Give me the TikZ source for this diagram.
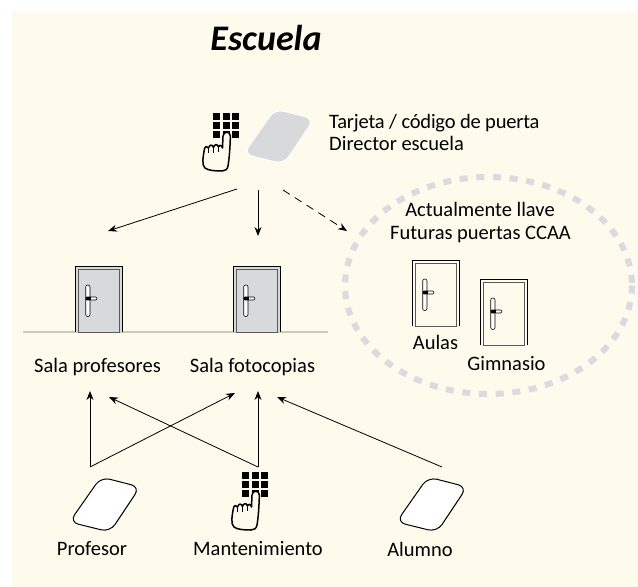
\documentclass[tikz,border=0pt]{standalone}
\usepackage{fontspec}
\setmainfont{Carlito}
\usetikzlibrary{arrows.meta,calc}
\definecolor{bgc}{HTML}{FEFAEC}
\definecolor{doorgray}{HTML}{D8D9DB}
\definecolor{ringgray}{HTML}{D9DBE0}
\definecolor{floorc}{HTML}{CBCBBD}
\tikzset{
  lbl/.style={font=\fontsize{20.5}{23}\selectfont,inner sep=0pt,text=black},
  conn/.style={-{Stealth[length=9pt,width=7pt]},line width=0.8pt,black},
  pics/door/.style={code={
    \fill[#1] (0,0) rectangle (47,66);
    \draw[line width=.9pt] (0,66) -- (0,0) -- (47,0) -- (47,66);
    \draw[line width=.9pt,draw=black!65,fill=#1] (3,66) -- (3,3) -- (44,3) -- (44,66) -- cycle;
    \draw[line width=.6pt,fill=white,rounded corners=2pt] (10.7,19) rectangle (15,50.5);
    \draw[line width=.6pt,fill=white,rounded corners=1pt] (10.7,31) rectangle (21.7,34);
    \fill (10.7,31) rectangle (16,34);
  }},
  pics/card/.style={code={
    \draw[line width=1pt,fill=white,rounded corners=9pt,#1] (-3.5,42) -- (28,-3) -- (67,7) -- (37,52) -- cycle;
  }},
  pics/keyhand/.style={code={
    \foreach \i in {0,1,2} \foreach \j in {0,1,2}
      \fill (\i*9.7,\j*9.2) rectangle ++(6.8,6.6);
    \draw[line width=1.5pt,line join=round,fill=bgc]
      (10,23) .. controls (10.5,18) and (17.3,18) .. (17.4,23)
      .. controls (17,34) and (16.5,44) .. (15,53)
      .. controls (14.5,56.5) and (12,58) .. (9,58)
      .. controls (2,58) and (-5,57.5) .. (-8,55)
      .. controls (-11.5,52) and (-10,44) .. (-8.5,36)
      .. controls (-8,33) and (-5.5,33) .. (-4.5,35)
      .. controls (-3.5,31.5) and (-0.5,31) .. (0.5,34.5)
      .. controls (1.5,31) and (4.5,30.5) .. (5.5,34)
      .. controls (6.5,31.5) and (8.5,32) .. (9.5,35)
      -- cycle;
    \draw[line width=1.3pt] (-4.5,35) -- (-4.5,40) (0.5,34.5) -- (0.5,39.5) (5.5,34) -- (5.5,39);
  }}
}
\begin{document}
\begin{tikzpicture}[x=1pt,y=-1pt]
\useasboundingbox (0,0) rectangle (638,587);
\fill[white] (0,0) rectangle (638,587);
\fill[bgc] (12,11) rectangle (638,587);

\node[font=\fontsize{36}{40}\selectfont\bfseries\itshape,inner sep=0pt] (title) at (266,38) {Escuela};

\draw[ringgray,line width=6pt,dash pattern=on 8pt off 8.7pt] (488.5,285.5) ellipse [x radius=143.5,y radius=108.5];
\draw[floorc,line width=1.4pt] (23,332) coordinate (fl) -- (328,332) coordinate (fr);

\pic at (213,113) {keyhand};
\pic at (247,112) {card={fill=doorgray,draw=white}};
\node[lbl,anchor=base west] (t1) at (329,128) {\addfontfeature{LetterSpace=-1}Tarjeta / código de puerta};
\node[lbl,anchor=base west] (t2) at (329,150) {Director escuela};

\pic at (75,266) {door=doorgray};
\pic at (233,266) {door=doorgray};
\pic at (412,260) {door=bgc};
\pic at (480,279) {door=bgc};

\node[lbl,anchor=base] (act) at (480,216) {Actualmente llave};
\node[lbl,anchor=base] (fut) at (480.5,239) {Futuras puertas CCAA};
\node[lbl,anchor=base] (aulas) at (435.5,349) {Aulas};
\node[lbl,anchor=base] (gim) at (506.5,370) {Gimnasio};
\node[lbl] (sp) at (97.5,367) {Sala profesores};
\node[lbl] (sf) at (252.5,367) {Sala fotocopias};
\node[lbl] (prof) at (92,549) {Profesor};
\node[lbl] (mant) at (258,549) {Mantenimiento};
\node[lbl] (alum) at (420,549) {Alumno};

\pic at (73,480) {card={fill=white,draw=black}};
\pic at (242,472) {keyhand};
\pic at (400,480) {card={fill=white,draw=black}};

\coordinate (top1) at (237,189);
\coordinate (top2) at (258,190);
\coordinate (top3) at (283,190);
\coordinate (a1) at (108,231);
\coordinate (a2) at (258,236);
\coordinate (a3) at (347,231);
\coordinate (sp1) at (90,391);
\coordinate (sp2) at (109,397);
\coordinate (sf1) at (235,393);
\coordinate (sf2) at (258,391);
\coordinate (sf3) at (277,397);
\coordinate (b1) at (90,467);
\coordinate (b2) at (258,467);
\coordinate (b3) at (442,467);

\draw[conn] (top1) -- (a1);
\draw[conn] (top2) -- (a2);
\draw[conn,dash pattern=on 8pt off 6pt] (top3) -- (a3);
\draw[conn] (b1) -- (sp1);
\draw[conn] (b1) -- (sf1);
\draw[conn] (b2) -- (sp2);
\draw[conn] (b2) -- (sf2);
\draw[conn] (b3) -- (sf3);
\end{tikzpicture}
\end{document}
